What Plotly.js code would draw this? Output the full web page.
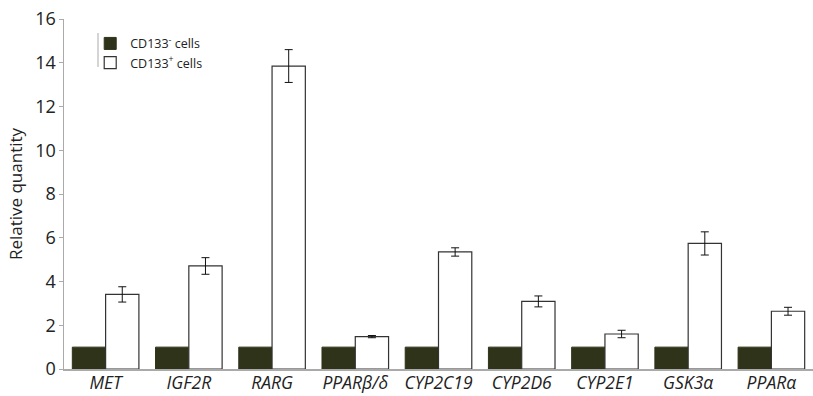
<!DOCTYPE html>
<html><head><meta charset="utf-8">
<script src="https://cdn.plot.ly/plotly-3.0.1.min.js"></script>
<style>html,body{margin:0;padding:0;background:#fff}#chart{width:813px;height:396px}</style>
</head><body><div id="chart"></div>
<script>
const genes = ["MET","IGF2R","RARG","PPARβ/δ","CYP2C19","CYP2D6","CYP2E1","GSK3α","PPARα"];
const negValues = [1,1,1,1,1,1,1,1,1];
const posValues = [3.41,4.71,13.85,1.48,5.35,3.09,1.6,5.74,2.64];
const posErrors = [0.35,0.38,0.75,0.05,0.19,0.25,0.17,0.53,0.18];
const yTicks = [0,2,4,6,8,10,12,14,16];

const tickText = genes.map(g => "<i>" + g + "</i>");
const data = [
  {type:"bar", name:"CD133<sup>-</sup> cells", x:genes, y:negValues,
   marker:{color:"#2f3319", line:{color:"#2f3319", width:1}}},
  {type:"bar", name:"CD133<sup>+</sup> cells", x:genes, y:posValues,
   marker:{color:"#ffffff", line:{color:"#333333", width:1.2}},
   error_y:{type:"data", array:posErrors, visible:true, color:"#111", thickness:1, width:4}}
];
const layout = {
  width:813, height:396,
  margin:{l:64, r:0, t:19, b:27},
  paper_bgcolor:"#fff", plot_bgcolor:"#fff",
  font:{family:"Open Sans, Liberation Sans, sans-serif", color:"#222"},
  barmode:"group", bargap:0.2, bargroupgap:0,
  showlegend:true,
  legend:{x:0.035, y:0.972, xanchor:"left", yanchor:"top", bgcolor:"rgba(0,0,0,0)",
          font:{size:12.5, color:"#222"}, tracegroupgap:0, itemwidth:30, traceorder:"normal"},
  xaxis:{type:"category", tickvals:genes, ticktext:tickText, range:[-0.5,8.5],
         showline:true, linecolor:"#aaaaaa", linewidth:1.5, ticks:"", showgrid:false,
         ticklabelstandoff:-3,
         tickfont:{size:17.5, color:"#222"}, zeroline:false, fixedrange:true},
  yaxis:{range:[0,16], tickvals:yTicks, ticktext:yTicks.map(String), showline:true,
         linecolor:"#aaaaaa", linewidth:1.5, ticks:"outside", ticklen:4, tickcolor:"#aaaaaa",
         ticklabelstandoff:-1,
         showgrid:false, zeroline:false, tickfont:{size:18, color:"#222"},
         title:{text:"Relative quantity", font:{size:17, color:"#222"}, standoff:8}},
  shapes:[{type:"line", xref:"paper", yref:"paper", x0:0.0454, x1:0.0454, y0:0.863, y1:0.96,
           line:{color:"#aaaaaa", width:1}}]
};
Plotly.newPlot("chart", data, layout, {displayModeBar:false, staticPlot:true});
</script></body></html>
